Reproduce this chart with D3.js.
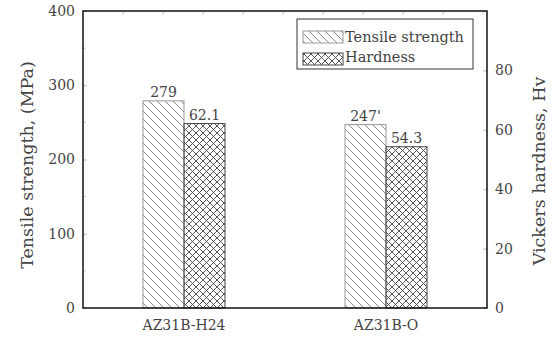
<!DOCTYPE html>
<html>
<head>
<meta charset="utf-8">
<script src="https://cdn.jsdelivr.net/npm/d3@7"></script>
<style>
  body { margin: 0; background: #fff; }
  text { font-family: "DejaVu Serif", serif; fill: #444; }
</style>
</head>
<body>
<div id="chart"></div>
<script>
var categories = ["AZ31B-H24", "AZ31B-O"];
var tensileValues = [279, 247];
var hardnessValues = [62.1, 54.3];
var tensileLabels = ["279", "247'"];
var hardnessLabels = ["62.1", "54.3"];
var leftTicks = [0, 100, 200, 300, 400];
var rightTicks = [0, 20, 40, 60, 80];
var seriesNames = ["Tensile strength", "Hardness"];

var width = 554, height = 337;
var margin = { left: 83, right: 67, top: 11, bottom: 29 };
var x0 = margin.left, x1 = width - margin.right;
var y0 = height - margin.bottom, y1 = margin.top;

var svg = d3.select("#chart").append("svg")
    .attr("width", width).attr("height", height);

var defs = svg.append("defs");
var p1 = defs.append("pattern").attr("id", "diag")
    .attr("patternUnits", "userSpaceOnUse").attr("width", 8).attr("height", 8);
p1.append("path").attr("d", "M-2,-2L10,10M-2,6L2,10M6,-2L10,2")
    .attr("stroke", "#8a8a8a").attr("stroke-width", 1);
var p2 = defs.append("pattern").attr("id", "cross")
    .attr("patternUnits", "userSpaceOnUse").attr("width", 7).attr("height", 7);
p2.append("path").attr("d", "M-1,-1L8,8M-1,6L1,8M6,-1L8,1M-1,8L8,-1M-1,1L1,-1M6,8L8,6")
    .attr("stroke", "#444").attr("stroke-width", 0.9);

var x = d3.scaleBand().domain(categories).range([x0, x1]);
var yL = d3.scaleLinear().domain([0, 400]).range([y0, y1]);
var yR = d3.scaleLinear().domain([0, 100]).range([y0, y1]);
var barW = 41;

// faint minor ticks
var minor = svg.append("g").attr("stroke", "#ccc");
[50, 150, 250, 350].forEach(function (v) {
    minor.append("line").attr("x1", x0).attr("x2", x0 + 3).attr("y1", yL(v)).attr("y2", yL(v));
});
d3.range(123, x1, 40).forEach(function (v) {
    minor.append("line").attr("x1", v).attr("x2", v).attr("y1", y1).attr("y2", y1 + 4);
});

// bars
var g = svg.append("g");
categories.forEach(function (c, i) {
    var cx = x(c) + x.bandwidth() / 2;
    g.append("rect").attr("x", cx - barW).attr("width", barW)
        .attr("y", yL(tensileValues[i])).attr("height", y0 - yL(tensileValues[i]))
        .attr("fill", "url(#diag)").attr("stroke", "#999").attr("stroke-width", 1);
    g.append("rect").attr("x", cx).attr("width", barW)
        .attr("y", yR(hardnessValues[i])).attr("height", y0 - yR(hardnessValues[i]))
        .attr("fill", "url(#cross)").attr("stroke", "#444").attr("stroke-width", 1);
    g.append("text").attr("x", cx - barW / 2).attr("y", yL(tensileValues[i]) - 4)
        .attr("text-anchor", "middle").attr("font-size", 14).text(tensileLabels[i]);
    g.append("text").attr("x", cx + barW / 2).attr("y", yR(hardnessValues[i]) - 4)
        .attr("text-anchor", "middle").attr("font-size", 14).text(hardnessLabels[i]);
});

// axes
var axL = svg.append("g").attr("transform", "translate(" + x0 + ",0)")
    .call(d3.axisLeft(yL).tickValues(leftTicks).tickSize(-4).tickPadding(8));
var axR = svg.append("g").attr("transform", "translate(" + x1 + ",0)")
    .call(d3.axisRight(yR).tickValues(rightTicks).tickSize(-4).tickPadding(8));
var axB = svg.append("g").attr("transform", "translate(0," + y0 + ")")
    .call(d3.axisBottom(x).tickSize(0).tickPadding(12));
[axL, axR, axB].forEach(function (a) {
    a.select(".domain").remove();
    a.selectAll("line").attr("stroke", "#bbb");
    a.selectAll("text").attr("font-family", "DejaVu Serif, serif").attr("fill", "#444");
});
axL.selectAll("text").attr("font-size", 14);
axR.selectAll("text").attr("font-size", 14);
axB.selectAll("text").attr("font-size", 14);

svg.append("rect").attr("x", x0).attr("y", y1).attr("width", x1 - x0).attr("height", y0 - y1)
    .attr("fill", "none").attr("stroke", "#111").attr("stroke-width", 1.5);

svg.append("text").attr("transform", "translate(33,165) rotate(-90)")
    .attr("text-anchor", "middle").attr("font-size", 17.5).text("Tensile strength, (MPa)");
svg.append("text").attr("transform", "translate(545,171) rotate(-90)")
    .attr("text-anchor", "middle").attr("font-size", 17.5).text("Vickers hardness, Hv");

// legend
var lg = svg.append("g").attr("transform", "translate(297,19)");
lg.append("rect").attr("width", 176).attr("height", 50)
    .attr("fill", "#fff").attr("stroke", "#333").attr("stroke-width", 1);
var fills = ["url(#diag)", "url(#cross)"], strokes = ["#999", "#444"];
seriesNames.forEach(function (s, i) {
    lg.append("rect").attr("x", 6).attr("y", 12 + i * 22).attr("width", 40).attr("height", 12)
        .attr("fill", fills[i]).attr("stroke", strokes[i]);
    lg.append("text").attr("x", 48).attr("y", 23 + i * 20).attr("font-size", 14.5).text(s);
});
</script>
</body>
</html>
